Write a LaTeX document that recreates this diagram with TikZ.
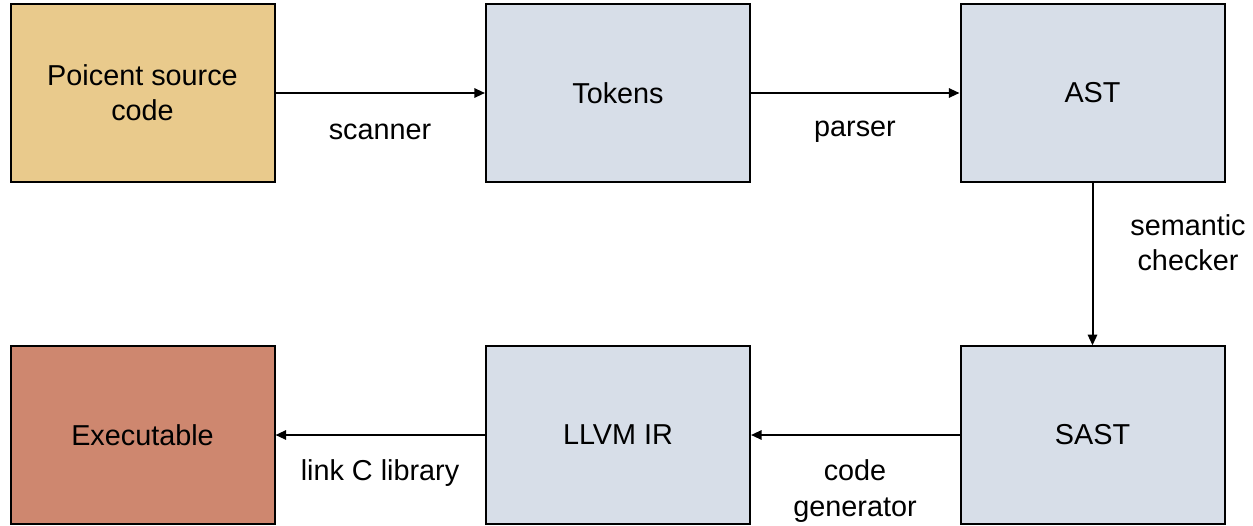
\documentclass[tikz,border=0pt]{standalone}
\usepackage{fontspec}
\setmainfont{Liberation Sans}
\usetikzlibrary{arrows.meta}
\definecolor{srccol}{HTML}{E9CA8C}
\definecolor{midcol}{HTML}{D7DEE8}
\definecolor{execol}{HTML}{CE876F}
\tikzset{
  stagebox/.style={draw, line width=1.5pt, minimum width=198pt, minimum height=133pt,
    align=center, font=\fontsize{21.6}{26.5}\selectfont},
  flow/.style={-{Triangle[length=8pt,width=7pt]}, line width=1.5pt},
  steplabel/.style={align=center, font=\fontsize{21.6}{26.5}\selectfont}
}
\begin{document}
\begin{tikzpicture}[x=0.75pt, y=-0.75pt]
    \useasboundingbox (0,0) rectangle (1253,525);
    % Top row
    \node [stagebox, fill=srccol] (source) at (142.5, 93) {Poicent source\\code};
    \node [stagebox, fill=midcol] (tokens) at (618, 93) {Tokens};
    \node [stagebox, fill=midcol] (ast) at (1092.5, 93) {AST};
    % Bottom row
    \node [stagebox, fill=execol] (exe) at (142.5, 435) {Executable};
    \node [stagebox, fill=midcol] (llvm) at (618, 435) {LLVM IR};
    \node [stagebox, fill=midcol] (sast) at (1092.5, 435) {SAST};
    % Connectors
    \draw [flow] (source) -- (tokens);
    \draw [flow] (tokens) -- (ast);
    \draw [flow] (ast) -- (sast);
    \draw [flow] (sast) -- (llvm);
    \draw [flow] (llvm) -- (exe);
    % Step labels
    \node [steplabel] (lscan) at (380, 132) {scanner};
    \node [steplabel] (lparse) at (855, 132) {parser};
    \node [steplabel] (lsem) at (1188, 243) {semantic\\checker};
    \node [steplabel] (llink) at (380, 473) {link C library};
    \node [steplabel] (lgen) at (855, 491) {code\\generator};
\end{tikzpicture}
\end{document}
